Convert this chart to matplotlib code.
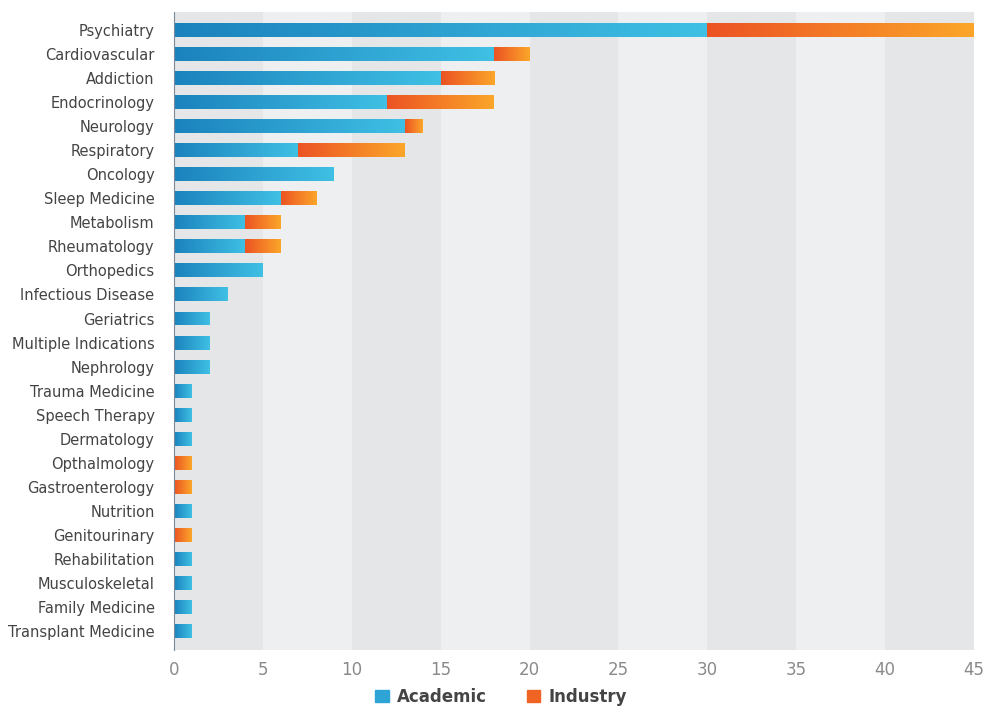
"""Stacked horizontal bars: trials by therapeutic area, academic vs industry."""

import matplotlib
matplotlib.use("Agg")
import matplotlib.pyplot as plt
import numpy as np
from matplotlib.colors import LinearSegmentedColormap
from matplotlib.patches import Patch

areas = [
    "Psychiatry", "Cardiovascular", "Addiction", "Endocrinology", "Neurology",
    "Respiratory", "Oncology", "Sleep Medicine", "Metabolism", "Rheumatology",
    "Orthopedics", "Infectious Disease", "Geriatrics", "Multiple Indications",
    "Nephrology", "Trauma Medicine", "Speech Therapy", "Dermatology",
    "Opthalmology", "Gastroenterology", "Nutrition", "Genitourinary",
    "Rehabilitation", "Musculoskeletal", "Family Medicine", "Transplant Medicine",
]
academic = [30, 18, 15, 12, 13, 7, 9, 6, 4, 4, 5, 3, 2, 2, 2, 1, 1, 1, 0, 0, 1, 0, 1, 1, 1, 1]
industry = [15, 2, 3, 6, 1, 6, 0, 2, 2, 2, 0, 0, 0, 0, 0, 0, 0, 0, 1, 1, 0, 1, 0, 0, 0, 0]
x_ticks = [0, 5, 10, 15, 20, 25, 30, 35, 40, 45]

blue_cmap = LinearSegmentedColormap.from_list("blue", ["#1b82bd", "#3fc0e4"])
orange_cmap = LinearSegmentedColormap.from_list("orange", ["#ec5323", "#fba62a"])

fig = plt.figure(figsize=(9.87, 7.11), dpi=100)
ax = fig.add_axes([0.1763, 0.0858, 0.8105, 0.8973])

# alternating background bands
for i, x0 in enumerate(x_ticks[:-1]):
    col = "#e5e6e8" if i % 2 == 0 else "#eeeff1"
    ax.axvspan(x0, x0 + 5, color=col, lw=0, zorder=0)

y = np.arange(len(areas))
h = 0.58
bars_a = ax.barh(y, academic, height=h, color="#2ea4d6", lw=0, zorder=2)
bars_i = ax.barh(y, industry, left=academic, height=h, color="#f37a24", lw=0, zorder=2)

grad = np.linspace(0, 1, 256).reshape(1, -1)
for bars, cmap in ((bars_a, blue_cmap), (bars_i, orange_cmap)):
    for b in bars:
        w = b.get_width()
        if w <= 0:
            continue
        x0, y0 = b.get_x(), b.get_y()
        im = ax.imshow(grad, cmap=cmap, aspect="auto", zorder=3,
                       extent=(x0, x0 + w, y0 + b.get_height(), y0))
        im.set_clip_path(b)

ax.set_xlim(0, 45)
ax.set_ylim(len(areas) - 1 + 0.79, -0.75)
ax.set_xticks(x_ticks)
ax.set_yticks(y)
ax.set_yticklabels(areas)
ax.tick_params(axis="y", length=0, pad=14, labelsize=10.5, labelcolor="#444444")
ax.tick_params(axis="x", length=0, pad=8, labelsize=12, labelcolor="#8a8a8a")
for side in ("top", "right", "bottom"):
    ax.spines[side].set_visible(False)
ax.spines["left"].set_color("#7a8a99")
ax.spines["left"].set_linewidth(0.8)
ax.spines["left"].set_zorder(4)

handles = [Patch(color="#2ea4d6"), Patch(color="#ef6423")]
fig.legend(handles, ["Academic", "Industry"], loc="center",
           bbox_to_anchor=(0.508, 0.02), ncol=2, frameon=False,
           prop={"weight": "bold", "size": 12}, labelcolor="#444444",
           handlelength=0.8, handleheight=0.8, handletextpad=0.5,
           columnspacing=2.4)

fig.savefig("out.png", dpi=100)
